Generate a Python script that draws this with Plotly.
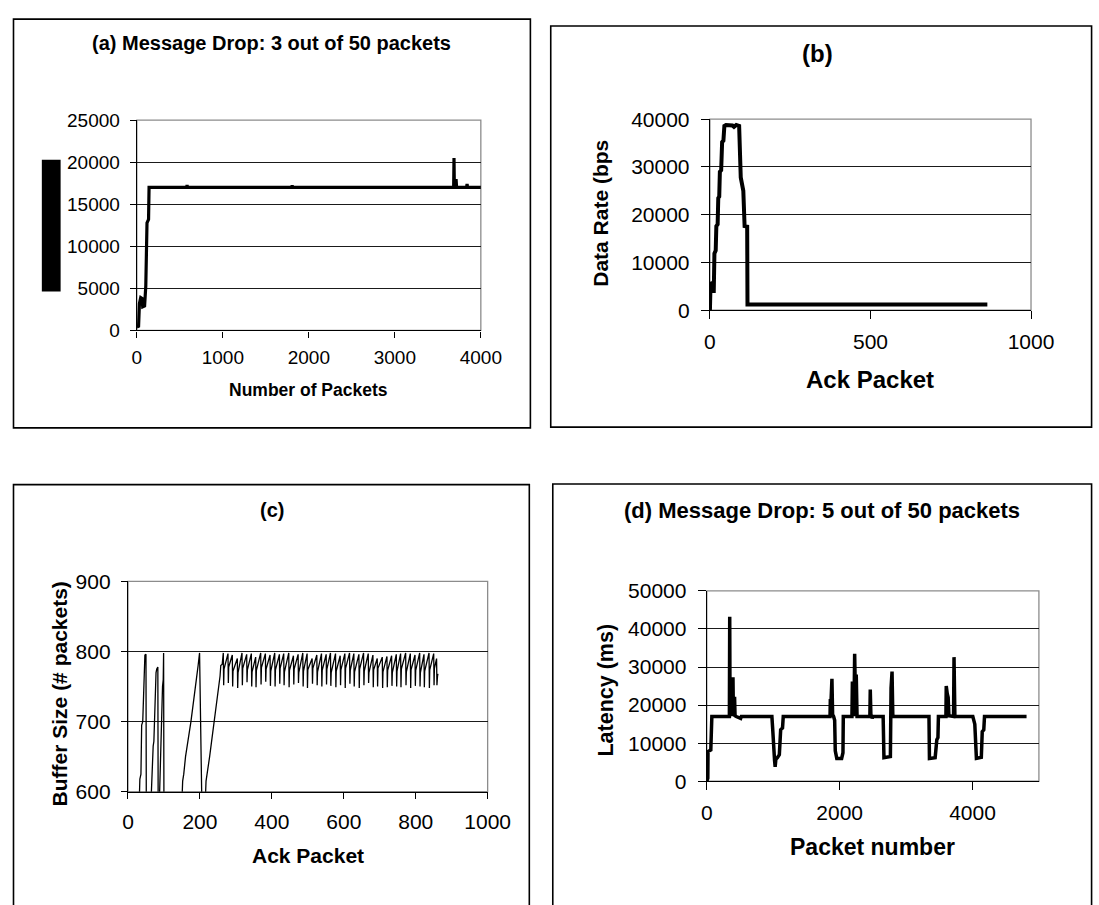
import plotly.graph_objects as go

W, H = 1099, 905

# ---------------- data ----------------
# (a) Message Drop: 3 out of 50 packets
a_x = [0, 20, 30, 38, 45, 60, 68, 90, 100, 104, 118, 124, 136, 142, 580, 584, 588,
       1802, 1806, 1810, 3684, 3688, 3692, 3706, 3712, 3718, 3834, 3840, 3846, 4018]
a_y = [400, 500, 3200, 3500, 3900, 3800, 2800, 2900, 5100, 5300, 12800, 13000, 13200, 17000, 17000, 17300, 17000,
       17000, 17250, 17000, 17000, 20500, 17200, 17200, 18000, 17000, 17000, 17400, 17000, 17000]

# (b) Data rate vs ack packet
b_x = [0, 2, 5, 6, 12, 14, 18, 20, 24, 26, 29, 31, 35, 38, 42, 45, 50, 70, 75, 82, 91, 96, 104, 108, 116, 117, 864]
b_y = [0, 5800, 5600, 4000, 4000, 11900, 12500, 17600, 18000, 23500, 23800, 29000, 29300, 35200, 35500, 38600,
       38800, 38700, 38400, 38800, 38600, 27800, 25000, 17600, 17500, 1200, 1200]

# (c) Buffer size vs ack packet
c_x = [30, 33, 36, 38, 41, 43, 45, 47, 50, 51,
       62, 65, 67, 70, 72, 74, 76, 78, 80, 83, 84,
       86, 88, 90, 92, 94, 96, 98, 99, 100,
       148, 152, 155, 160, 165, 170, 175, 180, 185, 190, 195, 199, 206,
       213, 217, 222, 227, 232, 237, 242, 247, 252, 256, 258, 262,
       265, 266, 267, 278, 279, 280, 290, 291, 292, 304, 305, 306, 317, 318, 319,
       330, 331, 332, 343, 344, 345, 355, 356, 357, 369, 370, 371, 382, 383, 384,
       395, 396, 397, 408, 409, 410, 421, 422, 423, 433, 434, 435, 447, 448, 449,
       460, 461, 462, 473, 474, 475, 486, 487, 488, 498, 499, 500, 512, 513, 514,
       525, 526, 527, 538, 539, 540, 551, 552, 553, 563, 564, 565, 577, 578, 579,
       590, 591, 592, 603, 604, 605, 616, 617, 618, 628, 629, 630, 642, 643, 644,
       655, 656, 657, 668, 669, 670, 681, 682, 683, 693, 694, 695, 707, 708, 709,
       720, 721, 722, 733, 734, 735, 746, 747, 748, 758, 759, 760, 772, 773, 774,
       785, 786, 787, 798, 799, 800, 811, 812, 813, 823, 824, 825, 837, 838, 839,
       850, 851, 852, 858, 859, 861, 862]
c_y = [560, 618, 625, 695, 700, 745, 755, 795, 796, 560,
       560, 612, 618, 665, 672, 710, 715, 770, 775, 778, 560,
       560, 600, 640, 690, 700, 750, 760, 798, 560,
       560, 615, 625, 650, 665, 680, 700, 720, 745, 760, 780, 798, 560,
       560, 615, 630, 650, 670, 690, 705, 725, 745, 765, 780, 782,
       798, 752, 775, 797, 755, 778, 795, 750, 772, 790, 748, 770, 798, 752, 776,
       796, 756, 774, 797, 750, 771, 792, 749, 773, 798, 753, 777, 797, 757, 775,
       795, 751, 772, 798, 750, 774, 796, 754, 776, 797, 752, 771, 798, 749, 773,
       794, 753, 775, 796, 755, 770, 798, 750, 772, 797, 748, 774, 790, 754, 776,
       795, 752, 771, 797, 750, 773, 796, 753, 775, 798, 751, 770, 797, 749, 772,
       794, 752, 774, 797, 748, 776, 798, 754, 773, 797, 750, 771, 796, 748, 775,
       798, 752, 772, 797, 755, 770, 795, 749, 774, 790, 750, 776, 792, 748, 771,
       793, 749, 773, 794, 751, 770, 796, 750, 772, 797, 749, 775, 798, 752, 771,
       797, 748, 774, 795, 751, 773, 798, 750, 770, 796, 749, 772, 798, 748, 774,
       797, 752, 776, 790, 752, 768, 766]

# (d) Message Drop: 5 out of 50 packets
d_x = [0, 15, 18, 40, 60, 76, 340, 345, 350, 390, 394, 400, 414, 418, 425, 443, 510, 520,
       980, 990, 1005, 1020, 1029, 1040, 1063, 1092, 1112, 1140, 1151,
       1855, 1860, 1870, 1884, 1894, 1909, 1925, 1934, 1957, 2030, 2041, 2050, 2055,
       2185, 2192, 2200, 2215, 2226, 2240, 2250, 2262, 2275, 2455, 2461, 2470, 2485, 2490, 2500,
       2655, 2667, 2764, 2774, 2789, 2800, 2813,
       3345, 3352, 3438, 3463, 3480, 3487, 3600, 3605, 3620, 3634, 3645, 3715, 3722, 3735,
       4005, 4020, 4035, 4059, 4133, 4147, 4170, 4181, 4814]
d_y = [0, 800, 7800, 8000, 8200, 17000, 17000, 43200, 17500, 17500, 27300, 17800, 17800, 22200, 17200, 17000, 16500, 17000,
       17000, 14300, 6500, 5500, 3800, 5800, 6200, 7000, 13500, 14000, 17000,
       17000, 21600, 21000, 26900, 17500, 17000, 16000, 8000, 6000, 6000, 7000, 7500, 17000,
       17000, 26200, 17500, 17500, 33500, 20000, 28000, 17000, 17000, 17000, 24100, 17500, 17000, 16500, 17000,
       17000, 6200, 6500, 24500, 28800, 17500, 17000,
       17000, 6000, 6200, 10900, 11500, 17000, 17000, 25000, 23000, 22000, 17200, 17000, 32600, 17000,
       17000, 16000, 15000, 6000, 6300, 13000, 13500, 17000, 17000]

# tick values
a_xticks = [0, 1000, 2000, 3000, 4000]
a_yticks = [0, 5000, 10000, 15000, 20000, 25000]
b_xticks = [0, 500, 1000]
b_yticks = [0, 10000, 20000, 30000, 40000]
c_xticks = [0, 200, 400, 600, 800, 1000]
c_yticks = [600, 700, 800, 900]
d_xticks = [0, 2000, 4000]
d_yticks = [0, 10000, 20000, 30000, 40000, 50000]

FONT = "Liberation Sans, Arial, sans-serif"


def px(x):
    return x / W


def py(y):
    return 1 - y / H


fig = go.Figure()

panels = [
    # suffix, xs, ys, xrange, yrange, xticks, yticks, plot box px (x0,x1,y0,y1), line width,
    # tick font size, tick length, x label standoff, y label standoff
    ("", a_x, a_y, [0, 4000], [0, 25000], a_xticks, a_yticks, (134.4, 487.7, 111, 326.7), 3.2, 19, 6, 4, 6),
    ("2", b_x, b_y, [0, 1000], [0, 40000], b_xticks, b_yticks, (723, 1052.8, 110, 306), 4, 21, 8, 4, 7),
    ("3", c_x, c_y, [0, 1000], [600, 900], c_xticks, c_yticks, (125.3, 494.7, 584.3, 800), 1.3, 21, 6, 5, 6),
    ("4", d_x, d_y, [0, 5000], [0, 50000], d_xticks, d_yticks, (719.8, 1060.9, 594, 789.3), 3.5, 21, 8, 4, 7),
]

shapes = []
for name, xs, ys, xr, yr, xt, yt, box, lw, tfs, tl, sox, soy in panels:
    x0, x1, y0, y1 = box
    fig.add_trace(go.Scatter(x=xs, y=ys, mode="lines", line=dict(color="black", width=lw),
                             xaxis="x" + name, yaxis="y" + name, showlegend=False, hoverinfo="skip"))
    common = dict(showline=True, linecolor="black", linewidth=1.3, ticks="outside", ticklen=tl,
                  tickcolor="black", tickwidth=1.3, zeroline=False, mirror=False,
                  tickfont=dict(family=FONT, size=tfs, color="black"), fixedrange=True)
    fig.layout["xaxis" + name] = dict(domain=[px(x0), px(x1)], range=xr, tickvals=xt,
                                      ticktext=[str(v) for v in xt], showgrid=False,
                                      anchor="y" + name, ticklabelstandoff=sox, **common)
    fig.layout["yaxis" + name] = dict(domain=[py(y1), py(y0)], range=yr, tickvals=yt,
                                      ticktext=[str(v) for v in yt], showgrid=True,
                                      gridcolor="#1a1a1a", gridwidth=1,
                                      anchor="x" + name, ticklabelstandoff=soy, **common)
    # gray plot-area border (top / right)
    shapes.append(dict(type="rect", xref="paper", yref="paper", x0=px(x0), x1=px(x1), y0=py(y1), y1=py(y0),
                       line=dict(color="#8c8c8c", width=1.3), layer="below"))

# outer panel frames
for bx0, by0, bx1, by1 in [(7.7, 7.3, 538.6, 426.7), (559.5, 14.3, 1115, 426),
                           (7.7, 485, 537.5, 920), (561.6, 484.3, 1115, 920)]:
    shapes.append(dict(type="rect", xref="paper", yref="paper", x0=px(bx0), x1=px(bx1), y0=py(by1), y1=py(by0),
                       line=dict(color="black", width=1.6), layer="below"))

# black block in panel (a) where the y-axis title was
shapes.append(dict(type="rect", xref="paper", yref="paper", x0=px(36.8), x1=px(56.1), y0=py(286.7), y1=py(151.7),
                   line=dict(width=0), fillcolor="black", layer="above"))

annotations = []


def ann(text, x, y, size, angle=0):
    annotations.append(dict(text="<b>" + text + "</b>", x=px(x), y=py(y), xref="paper", yref="paper",
                            xanchor="center", yanchor="middle", showarrow=False, textangle=angle,
                            font=dict(family=FONT, size=size, color="black")))


ann("(a) Message Drop: 3 out of 50 packets", 272.6, 32.3, 20)
ann("Number of Packets", 310.9, 387.7, 17.5)
ann("(b)", 833.5, 42.7, 24)
ann("Ack Packet", 887.5, 376.7, 24)
ann("Data Rate (bps", 610.4, 206.7, 21, -90)
ann("(c)", 273.7, 510.7, 20)
ann("Ack Packet", 310.5, 865, 21)
ann("Buffer Size (# packets)", 54.4, 699.2, 21, -90)
ann("(d) Message Drop: 5 out of 50 packets", 837.7, 511, 22)
ann("Packet number", 889.6, 856.7, 23)
ann("Latency (ms)", 616.7, 695.8, 21.5, -90)

fig.update_layout(width=W, height=H, margin=dict(l=0, r=0, t=0, b=0, pad=0),
                  paper_bgcolor="white", plot_bgcolor="white", showlegend=False,
                  shapes=shapes, annotations=annotations)

fig.write_html("out.html", config={"displayModeBar": False})
